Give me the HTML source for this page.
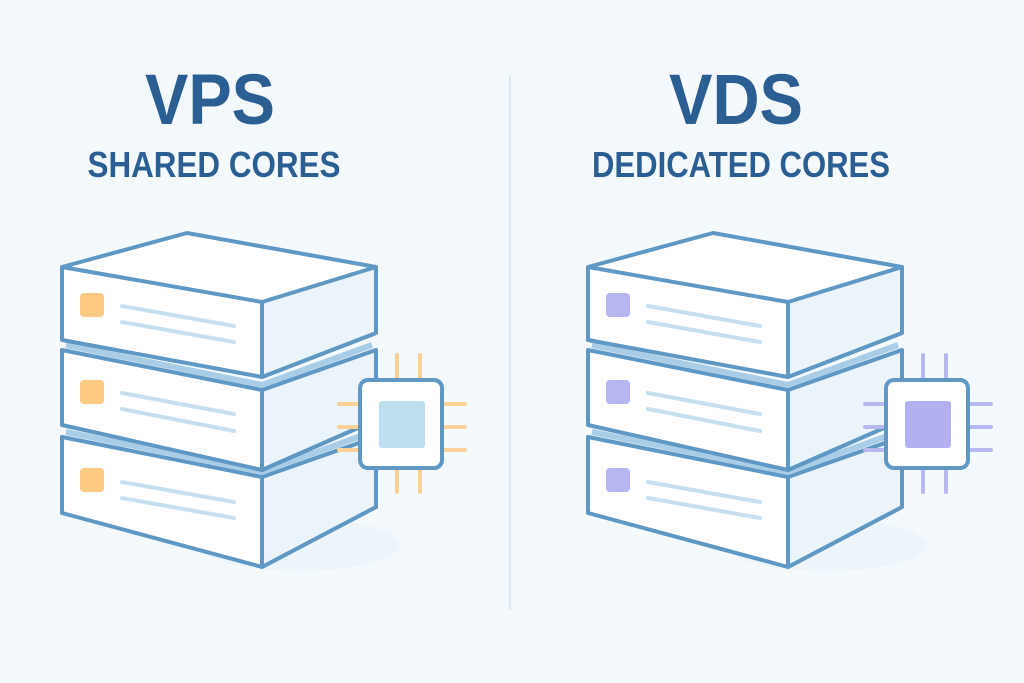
<!DOCTYPE html>
<html><head><meta charset="utf-8"><style>html,body{margin:0;padding:0;background:#f3f9fc}svg{display:block}</style></head>
<body>
<svg width="1024" height="683" viewBox="0 0 1024 683" xmlns="http://www.w3.org/2000/svg">
<defs>
<g id="stack">
  <ellipse cx="300" cy="545" rx="100" ry="26" fill="#e9f3f9" opacity="0.7"/>
  <g>
    <path d="M62,437 L262,477 L376,437 L376,507 L262,567 L62,513 Z" fill="#fff" stroke="#5f98c4" stroke-width="4" stroke-linejoin="round"/>
    <path d="M262,477 L376,437 L376,507 L262,567 Z" fill="#eaf4fa" stroke="#5f98c4" stroke-width="4" stroke-linejoin="round"/>
    <path d="M66,432 L262,472 L372,432" fill="none" stroke="#a9cde6" stroke-width="6"/>
    <line x1="262" y1="477" x2="262" y2="567" stroke="#5f98c4" stroke-width="4"/>
  </g>
  <g>
    <path d="M62,350 L262,390 L376,350 L376,420 L262,470 L62,425 Z" fill="#fff" stroke="#5f98c4" stroke-width="4" stroke-linejoin="round"/>
    <path d="M262,390 L376,350 L376,420 L262,470 Z" fill="#eaf4fa" stroke="#5f98c4" stroke-width="4" stroke-linejoin="round"/>
    <path d="M66,345 L262,385 L372,345" fill="none" stroke="#a9cde6" stroke-width="6"/>
  </g>
  <g>
    <path d="M62,267 L187,233 L376,267 L376,333 L262,377 L62,340 Z" fill="#fff" stroke="#5f98c4" stroke-width="4" stroke-linejoin="round"/>
    <path d="M262,302 L376,267 L376,333 L262,377 Z" fill="#eaf4fa" stroke="#5f98c4" stroke-width="4" stroke-linejoin="round"/>
    <path d="M62,267 L262,302" fill="none" stroke="#5f98c4" stroke-width="4"/>
  </g>
  <g stroke="#c6dff0" stroke-width="4" stroke-linecap="round">
    <line x1="122" y1="306" x2="234" y2="326"/><line x1="122" y1="322" x2="234" y2="342"/>
    <line x1="122" y1="393" x2="234" y2="414"/><line x1="122" y1="409" x2="234" y2="431"/>
    <line x1="122" y1="482" x2="234" y2="502"/><line x1="122" y1="498" x2="234" y2="518"/>
  </g>
</g>
</defs>
<rect width="1024" height="683" fill="#f3f9fc"/>
<line x1="510" y1="75" x2="510" y2="610" stroke="#dde8ee" stroke-width="2"/>

<g font-family="Liberation Sans, sans-serif" fill="#2b5f93" text-anchor="middle" font-weight="bold">
  <text x="210" y="124" font-size="71" textLength="130" lengthAdjust="spacingAndGlyphs">VPS</text>
  <text x="214" y="177" font-size="36" textLength="253" lengthAdjust="spacingAndGlyphs">SHARED CORES</text>
  <text x="736" y="124" font-size="71" textLength="134" lengthAdjust="spacingAndGlyphs">VDS</text>
  <text x="741" y="177" font-size="36" textLength="298" lengthAdjust="spacingAndGlyphs">DEDICATED CORES</text>
</g>

<use href="#stack"/>
<g fill="#fcc982">
  <rect x="80" y="293" width="24" height="24" rx="4"/>
  <rect x="80" y="380" width="24" height="24" rx="4"/>
  <rect x="80" y="468" width="24" height="24" rx="4"/>
</g>
<g stroke="#fcd096" stroke-width="4" stroke-linecap="round">
  <line x1="397" y1="355" x2="397" y2="378"/><line x1="420" y1="355" x2="420" y2="378"/>
  <line x1="397" y1="470" x2="397" y2="492"/><line x1="420" y1="470" x2="420" y2="492"/>
  <line x1="339" y1="404" x2="358" y2="404"/><line x1="339" y1="427" x2="358" y2="427"/><line x1="339" y1="450" x2="358" y2="450"/>
  <line x1="444" y1="404" x2="465" y2="404"/><line x1="444" y1="427" x2="465" y2="427"/><line x1="444" y1="450" x2="465" y2="450"/>
</g>
<rect x="360" y="380" width="82" height="88" rx="8" fill="#fff" stroke="#5f98c4" stroke-width="4"/>
<rect x="379" y="401" width="46" height="47" rx="3" fill="#bde0f1"/>

<use href="#stack" x="526"/>
<g fill="#b7b5f2">
  <rect x="606" y="293" width="24" height="24" rx="4"/>
  <rect x="606" y="380" width="24" height="24" rx="4"/>
  <rect x="606" y="468" width="24" height="24" rx="4"/>
</g>
<g stroke="#b9b7f0" stroke-width="4" stroke-linecap="round">
  <line x1="923" y1="355" x2="923" y2="378"/><line x1="946" y1="355" x2="946" y2="378"/>
  <line x1="923" y1="470" x2="923" y2="492"/><line x1="946" y1="470" x2="946" y2="492"/>
  <line x1="865" y1="404" x2="884" y2="404"/><line x1="865" y1="427" x2="884" y2="427"/><line x1="865" y1="450" x2="884" y2="450"/>
  <line x1="970" y1="404" x2="991" y2="404"/><line x1="970" y1="427" x2="991" y2="427"/><line x1="970" y1="450" x2="991" y2="450"/>
</g>
<rect x="886" y="380" width="82" height="88" rx="8" fill="#fff" stroke="#5f98c4" stroke-width="4"/>
<rect x="905" y="401" width="46" height="47" rx="3" fill="#b1b0f1"/>
</svg>
</body></html>
